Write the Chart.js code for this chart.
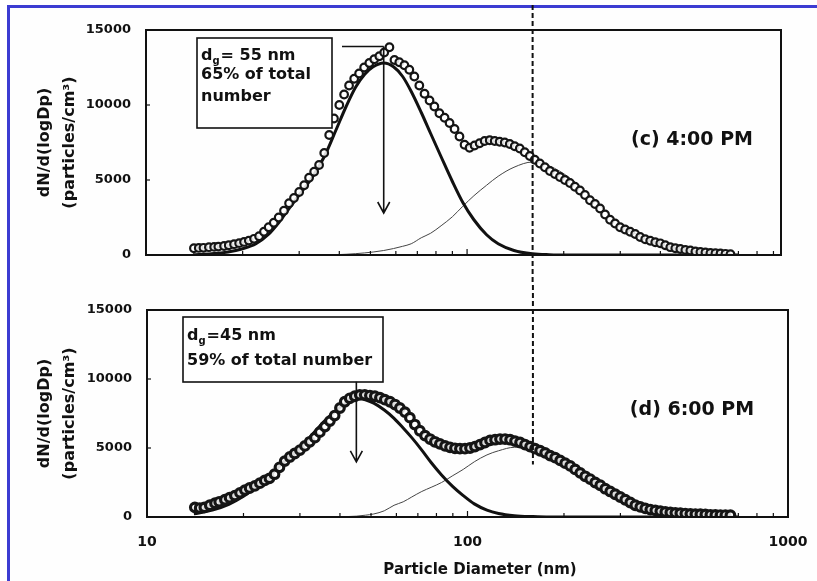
<!DOCTYPE html>
<html>
<head>
<meta charset="utf-8">
<title>Particle size distributions</title>
<script src="https://cdn.jsdelivr.net/npm/chart.js@4.4.1/dist/chart.umd.min.js"></script>
<style>
  html, body { margin: 0; padding: 0; background: #fff; overflow: hidden; }
  #page { position: relative; width: 817px; height: 581px; }
  #frame {
    position: absolute; left: 7px; top: 5px; width: 830px; height: 600px;
    border-top: 3px solid #3c3cd2; border-left: 3px solid #3c3cd2;
    background: #fefefe;
  }
  canvas { position: absolute; left: 0; }
  #top { top: 0; }
  #bottom { top: 285px; }
</style>
</head>
<body>
<div id="page">
  <div id="frame"></div>
  <canvas id="top" width="817" height="285"></canvas>
  <canvas id="bottom" width="817" height="296"></canvas>
</div>
<script>
/* ── Data: SMPS channel diameters (nm) and dN/d(logDp) ── */
const diameters = [
  14.1, 14.6, 15.1, 15.7, 16.3, 16.8, 17.5, 18.1, 18.8, 19.5, 20.2, 20.9, 21.7, 22.5,
  23.3, 24.1, 25.0, 25.9, 26.9, 27.9, 28.9, 30.0, 31.1, 32.2, 33.4, 34.6, 35.9, 37.2,
  38.5, 40.0, 41.4, 42.9, 44.5, 46.1, 47.8, 49.6, 51.4, 53.3, 55.2, 57.3, 59.4, 61.5,
  63.8, 66.1, 68.5, 71.0, 73.7, 76.4, 79.1, 82.0, 85.1, 88.2, 91.4, 94.7, 98.2, 101.8,
  105.5, 109.4, 113.4, 117.6, 121.9, 126.3, 131.0, 135.8, 140.7, 145.9, 151.2, 156.8,
  162.5, 168.5, 174.7, 181.1, 187.7, 194.6, 201.7, 209.1, 216.7, 224.7, 232.9, 241.4,
  250.3, 259.5, 269.0, 278.8, 289.0, 299.6, 310.6, 322.0, 333.8, 346.0, 358.7, 371.8,
  385.5, 399.6, 414.2, 429.4, 445.1, 461.4, 478.3, 495.8, 514.0, 532.8, 552.3, 572.5,
  593.5, 615.3, 637.8, 661.2
];

// (c) 4:00 PM measured
const measured4pm = [
  450, 470, 480, 520, 540, 560, 600, 650, 720, 790, 870, 960, 1080, 1250,
  1550, 1850, 2150, 2500, 2950, 3450, 3800, 4200, 4650, 5150, 5550, 6000, 6800, 8000,
  9100, 10000, 10700, 11300, 11750, 12100, 12500, 12800, 13050, 13250, 13500, 13850, 13000, 12850,
  12650, 12350, 11900, 11300, 10750, 10300, 9900, 9450, 9150, 8800, 8400, 7900, 7350, 7150,
  7300, 7450, 7600, 7650, 7600, 7550, 7500, 7400, 7250, 7100, 6850, 6600,
  6350, 6100, 5850, 5600, 5400, 5200, 5000, 4800, 4550, 4300, 4000, 3650,
  3400, 3100, 2700, 2350, 2100, 1850, 1700, 1550, 1400, 1200, 1050, 950,
  850, 780, 650, 520, 450, 400, 340, 300, 240, 200, 170, 140,
  120, 100, 80, 60
];

// (d) 6:00 PM measured
const measured6pm = [
  700, 650, 700, 850, 1000, 1100, 1250, 1400, 1550, 1750, 1950, 2100, 2250, 2450,
  2650, 2800, 3100, 3600, 4050, 4350, 4600, 4850, 5150, 5450, 5750, 6150, 6550, 6950,
  7350, 7900, 8350, 8600, 8750, 8850, 8850, 8800, 8750, 8650, 8500, 8350, 8150, 7900,
  7600, 7200, 6700, 6250, 5900, 5650, 5450, 5300, 5150, 5050, 4980, 4950, 4950, 5000,
  5100, 5250, 5400, 5550, 5600, 5650, 5650, 5600, 5500, 5400, 5250, 5100,
  4950, 4800, 4650, 4450, 4300, 4100, 3900, 3700, 3450, 3200, 2950, 2750,
  2500, 2300, 2050, 1850, 1650, 1450, 1250, 1050, 850, 730, 620, 540,
  480, 420, 370, 330, 300, 270, 250, 230, 210, 200, 180, 160,
  150, 140, 140, 130
];

// fitted lognormal modes
const fitDiameters = [
  14, 16, 18, 20, 22, 24, 26, 28, 30, 33, 36, 39, 42, 45, 48, 51, 55, 59, 63, 67, 72,
  77, 83, 90, 97, 105, 115, 125, 140, 160, 180, 210, 240, 270, 300, 340, 380, 430, 500, 600, 700
];
const fineMode4pm = [
  20, 80, 200, 420, 750, 1350, 2200, 3150, 4000, 5200, 6600, 8300, 9900, 11200, 12050, 12550, 12800, 12550, 11900, 10900, 9500,
  8100, 6550, 4900, 3500, 2350, 1350, 750, 300, 80, 20, 0, 0, 0, 0, 0, 0, 0, 0, 0, 0
];
const coarseMode4pm = [
  0, 0, 0, 0, 0, 0, 0, 0, 0, 0, 5, 20, 50, 90, 140, 200, 300, 430, 580, 750, 1150,
  1450, 1950, 2550, 3250, 3950, 4650, 5250, 5850, 6200, 5950, 5100, 4000, 2900, 2050, 1350, 800, 380, 150, 40, 10
];
const fineMode6pm = [
  230, 500, 920, 1500, 2200, 2950, 3700, 4450, 5000, 6050, 7000, 7750, 8300, 8600, 8500, 8250, 7750, 7150, 6450, 5750, 4850,
  3950, 3050, 2200, 1550, 950, 500, 260, 100, 30, 0, 0, 0, 0, 0, 0, 0, 0, 0, 0, 0
];
const coarseMode6pm = [
  0, 0, 0, 0, 0, 0, 0, 0, 0, 0, 0, 10, 30, 60, 130, 220, 450, 850, 1100, 1450, 1850,
  2150, 2500, 3000, 3450, 4000, 4500, 4800, 5050, 5000, 4600, 3750, 2800, 2050, 1450, 780, 450, 300, 150, 50, 10
];

// axes
const xTickValues = [10, 20, 30, 40, 50, 60, 70, 80, 90, 100, 200, 300, 400, 500, 600, 700, 800, 900, 1000];
const xTickLabels = { 10: '10', 100: '100', 1000: '1000' };
const yTickValues = [0, 5000, 10000, 15000];
const dashedDiameter = 160;

// mode annotations
const dg4pm = 55;
const dg6pm = 45;
const note4pm = [['d', 'g', '= 55 nm'], '65% of total', 'number'];
const note6pm = [['d', 'g', '=45 nm'], '59% of total number'];

const FONT = "'DejaVu Sans', sans-serif";

const pts = (xs, ys) => xs.map((x, i) => ({ x: x, y: ys[i] }));

/* ── Box, inward ticks, dashed marker, arrows and labels ── */
const panelDecor = {
    id: 'panelDecor',
    afterDraw(chart, args, o) {
        const { ctx, chartArea: a, scales: { x, y } } = chart;
        ctx.save();

        // plot frame
        ctx.strokeStyle = '#111';
        ctx.lineWidth = 2;
        ctx.strokeRect(a.left, a.top, a.right - a.left, a.bottom - a.top);

        // tick marks pointing into the plot
        ctx.lineWidth = 1.2;
        x.ticks.forEach(t => {
            const px = x.getPixelForValue(t.value);
            if (px < a.left + 2 || px > a.right - 2) return;
            const len = xTickLabels[t.value] ? 6 : 4;
            ctx.beginPath();
            ctx.moveTo(px, a.bottom);
            ctx.lineTo(px, a.bottom - len);
            ctx.stroke();
        });
        y.ticks.forEach(t => {
            const py = y.getPixelForValue(t.value);
            ctx.beginPath();
            ctx.moveTo(a.left, py);
            ctx.lineTo(a.left + 4, py);
            ctx.stroke();
        });

        // dashed reference diameter
        const dx = x.getPixelForValue(dashedDiameter);
        const dBottom = o.dashToValue == null ? chart.height : y.getPixelForValue(o.dashToValue);
        ctx.setLineDash([5, 3]);
        ctx.lineWidth = 2;
        ctx.beginPath();
        ctx.moveTo(dx, o.dashTop);
        ctx.lineTo(dx, dBottom);
        ctx.stroke();
        ctx.setLineDash([]);

        // annotation box
        const b = o.box;
        ctx.fillStyle = '#fff';
        ctx.fillRect(b.x, b.y, b.w, b.h);
        ctx.lineWidth = 1.6;
        ctx.strokeRect(b.x, b.y, b.w, b.h);

        ctx.fillStyle = '#111';
        ctx.textBaseline = 'alphabetic';
        ctx.textAlign = 'left';
        o.lines.forEach((line, i) => {
            const by = o.baselines[i];
            let tx = b.x + 4;
            ctx.font = `bold 16px ${FONT}`;
            if (Array.isArray(line)) {
                ctx.fillText(line[0], tx, by);
                tx += ctx.measureText(line[0]).width;
                ctx.font = `bold 10px ${FONT}`;
                ctx.fillText(line[1], tx, by + 4);
                tx += ctx.measureText(line[1]).width + 1;
                ctx.font = `bold 16px ${FONT}`;
                ctx.fillText(line[2], tx, by);
            } else {
                ctx.fillText(line, tx, by);
            }
        });

        // arrow at the geometric mean diameter
        const ax = x.getPixelForValue(o.dg);
        const ay0 = y.getPixelForValue(o.arrowFrom);
        const ay1 = y.getPixelForValue(o.arrowTo);
        ctx.lineWidth = 1.6;
        ctx.beginPath();
        if (o.leader) {
            ctx.moveTo(b.x + b.w + 10, ay0);
            ctx.lineTo(ax, ay0);
        }
        ctx.moveTo(ax, ay0);
        ctx.lineTo(ax, ay1);
        ctx.moveTo(ax - 6, ay1 - 11);
        ctx.lineTo(ax, ay1);
        ctx.lineTo(ax + 6, ay1 - 11);
        ctx.stroke();

        // panel label
        ctx.font = `bold 19px ${FONT}`;
        ctx.textAlign = 'center';
        ctx.textBaseline = 'middle';
        ctx.fillText(o.label, o.labelAt[0], o.labelAt[1]);

        // shared x axis title
        if (o.xTitle) {
            ctx.font = `bold 15px ${FONT}`;
            ctx.fillText(o.xTitle, o.xTitleAt[0], o.xTitleAt[1]);
        }

        ctx.restore();
    }
};

function buildPanel(canvasId, cfg) {
    const canvas = document.getElementById(canvasId);
    return new Chart(canvas, {
        type: 'scatter',
        data: {
            datasets: [
                {
                    label: 'measured',
                    data: pts(diameters, cfg.measured),
                    showLine: false,
                    pointRadius: cfg.pointRadius,
                    pointBorderWidth: cfg.pointBorder,
                    borderColor: '#151515',
                    backgroundColor: 'rgba(255,255,255,0.85)',
                    order: 0
                },
                {
                    label: 'fine mode',
                    data: pts(fitDiameters, cfg.fine),
                    showLine: true,
                    pointRadius: 0,
                    borderWidth: 3,
                    borderColor: '#111',
                    cubicInterpolationMode: 'monotone',
                    order: 1
                },
                {
                    label: 'coarse mode',
                    data: pts(fitDiameters, cfg.coarse),
                    showLine: true,
                    pointRadius: 0,
                    borderWidth: 1,
                    borderColor: '#444',
                    cubicInterpolationMode: 'monotone',
                    order: 2
                }
            ]
        },
        options: {
            responsive: false,
            animation: false,
            devicePixelRatio: 1,
            layout: { padding: cfg.padding },
            plugins: {
                legend: { display: false },
                tooltip: { enabled: false },
                panelDecor: cfg.decor
            },
            scales: {
                x: {
                    type: 'logarithmic',
                    min: 10,
                    max: cfg.xMax,
                    border: { display: false },
                    grid: { display: false, drawTicks: false },
                    afterBuildTicks: scale => {
                        scale.ticks = xTickValues.filter(v => v <= cfg.xMax).map(v => ({ value: v }));
                    },
                    afterFit: scale => {
                        scale.height = cfg.xHeight;
                        // end labels may hang past the plot box
                        scale.paddingLeft = 0;
                        scale.paddingRight = 0;
                    },
                    ticks: {
                        display: cfg.showXLabels,
                        autoSkip: false,
                        maxRotation: 0,
                        padding: 17,
                        color: '#111',
                        font: { family: FONT, size: 14, weight: 'bold' },
                        callback: v => xTickLabels[v] || ''
                    }
                },
                y: {
                    min: 0,
                    max: 15000,
                    border: { display: false },
                    grid: { display: false, drawTicks: false },
                    afterBuildTicks: scale => {
                        scale.ticks = yTickValues.map(v => ({ value: v }));
                    },
                    afterFit: scale => { scale.width = cfg.yWidth; },
                    ticks: {
                        padding: 15,
                        color: '#111',
                        font: { family: FONT, size: 13, weight: 'bold' },
                        callback: v => String(v)
                    },
                    title: {
                        display: true,
                        text: ['dN/d(logDp)', '(particles/cm³)'],
                        color: '#111',
                        padding: { top: 32.5, bottom: 0 },
                        font: { family: FONT, size: 16, weight: 'bold', lineHeight: 1.5625 }
                    }
                }
            }
        },
        plugins: [panelDecor]
    });
}

document.addEventListener('DOMContentLoaded', function () {
    buildPanel('top', {
        measured: measured4pm,
        fine: fineMode4pm,
        coarse: coarseMode4pm,
        pointRadius: 3.8,
        pointBorder: 2.2,
        xMax: 950,
        xHeight: 30,
        yWidth: 146,
        showXLabels: false,
        padding: { left: 0, right: 36, top: 30, bottom: 0 },
        decor: {
            label: '(c) 4:00 PM',
            labelAt: [692, 140],
            box: { x: 197, y: 38, w: 135, h: 90 },
            lines: note4pm,
            baselines: [60, 79, 101],
            dg: dg4pm,
            arrowFrom: 13900,
            arrowTo: 2800,
            leader: true,
            dashTop: 5,
            dashToValue: null
        }
    });

    buildPanel('bottom', {
        measured: measured6pm,
        fine: fineMode6pm,
        coarse: coarseMode6pm,
        pointRadius: 4.3,
        pointBorder: 3.2,
        xMax: 1000,
        xHeight: 64,
        yWidth: 147,
        showXLabels: true,
        padding: { left: 0, right: 29, top: 25, bottom: 0 },
        decor: {
            label: '(d) 6:00 PM',
            labelAt: [692, 125],
            box: { x: 183, y: 32, w: 200, h: 65 },
            lines: note6pm,
            baselines: [55, 80],
            dg: dg6pm,
            arrowFrom: 9800,
            arrowTo: 4000,
            leader: false,
            dashTop: 0,
            dashToValue: 3800,
            xTitle: 'Particle Diameter (nm)',
            xTitleAt: [480, 285]
        }
    });
});
</script>
</body>
</html>
